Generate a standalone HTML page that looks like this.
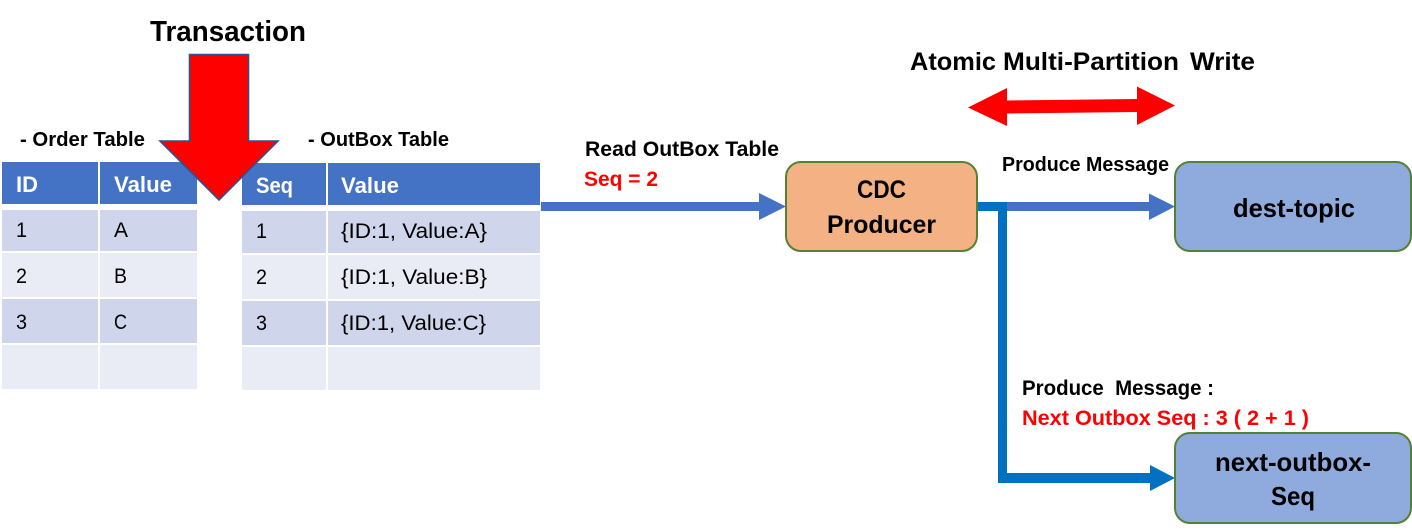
<!DOCTYPE html>
<html><head><meta charset="utf-8"><style>
html,body{margin:0;padding:0;background:#fff;width:1412px;height:531px;overflow:hidden}
svg{display:block}
text{font-family:"Liberation Sans",sans-serif;fill:#000;white-space:pre}
.b{font-weight:bold}
.r{fill:#f00}
.h{fill:#fff;font-weight:bold;font-size:22px}
.c{font-size:21px}
</style></head><body>
<svg width="1412" height="531" viewBox="0 0 1412 531" xmlns="http://www.w3.org/2000/svg">
<rect width="1412" height="531" fill="#fff"/>
<!-- order table -->
<g fill="#4472c4"><rect x="2" y="162" width="96" height="42"/><rect x="100" y="162" width="97" height="42"/></g>
<g fill="#cfd5ea"><rect x="2" y="210" width="96" height="41"/><rect x="100" y="210" width="97" height="41"/><rect x="2" y="299" width="96" height="44"/><rect x="100" y="299" width="97" height="44"/></g>
<g fill="#e9ebf5"><rect x="2" y="253" width="96" height="44"/><rect x="100" y="253" width="97" height="44"/><rect x="2" y="345" width="96" height="44"/><rect x="100" y="345" width="97" height="44"/></g>
<!-- outbox table -->
<g fill="#4472c4"><rect x="242" y="163" width="84" height="42"/><rect x="328" y="163" width="212" height="42"/></g>
<g fill="#cfd5ea"><rect x="242" y="211" width="84" height="42"/><rect x="328" y="211" width="212" height="42"/><rect x="242" y="301" width="84" height="44"/><rect x="328" y="301" width="212" height="44"/></g>
<g fill="#e9ebf5"><rect x="242" y="255" width="84" height="44"/><rect x="328" y="255" width="212" height="44"/><rect x="242" y="347" width="84" height="43"/><rect x="328" y="347" width="212" height="43"/></g>
<!-- table text -->
<text class="h" x="16" y="192" textLength="22" lengthAdjust="spacingAndGlyphs">ID</text>
<text class="h" x="114" y="192" textLength="58" lengthAdjust="spacingAndGlyphs">Value</text>
<text class="h" x="256" y="193" textLength="37" lengthAdjust="spacingAndGlyphs">Seq</text>
<text class="h" x="341" y="193" textLength="58" lengthAdjust="spacingAndGlyphs">Value</text>
<text class="c" x="16" y="237" textLength="11" lengthAdjust="spacingAndGlyphs">1</text><text class="c" x="114" y="237" textLength="14" lengthAdjust="spacingAndGlyphs">A</text>
<text class="c" x="16" y="283" textLength="11" lengthAdjust="spacingAndGlyphs">2</text><text class="c" x="114" y="283" textLength="13" lengthAdjust="spacingAndGlyphs">B</text>
<text class="c" x="16" y="329" textLength="11" lengthAdjust="spacingAndGlyphs">3</text><text class="c" x="114" y="329" textLength="13" lengthAdjust="spacingAndGlyphs">C</text>
<text class="c" x="256" y="238" textLength="11" lengthAdjust="spacingAndGlyphs">1</text><text class="c" x="341" y="238" textLength="146" lengthAdjust="spacingAndGlyphs">{ID:1, Value:A}</text>
<text class="c" x="256" y="284" textLength="11" lengthAdjust="spacingAndGlyphs">2</text><text class="c" x="341" y="284" textLength="146" lengthAdjust="spacingAndGlyphs">{ID:1, Value:B}</text>
<text class="c" x="256" y="330" textLength="11" lengthAdjust="spacingAndGlyphs">3</text><text class="c" x="341" y="330" textLength="145" lengthAdjust="spacingAndGlyphs">{ID:1, Value:C}</text>
<!-- big red arrow -->
<polygon points="189.5,54.5 248.5,54.5 248.5,141 278,141 219,200 160,141 189.5,141" fill="#f00" stroke="#2f528f" stroke-width="1.6"/>
<!-- headings -->
<text class="b" x="150" y="41" font-size="29" textLength="156" lengthAdjust="spacingAndGlyphs">Transaction</text>
<text class="b" x="20" y="146" font-size="20" textLength="125" lengthAdjust="spacingAndGlyphs">- Order Table</text>
<text class="b" x="308" y="146" font-size="20" textLength="141" lengthAdjust="spacingAndGlyphs">- OutBox Table</text>
<text class="b" x="585" y="156" font-size="21.5" textLength="194" lengthAdjust="spacingAndGlyphs">Read OutBox Table</text>
<text class="b r" x="584" y="186" font-size="21.5" textLength="74" lengthAdjust="spacingAndGlyphs">Seq = 2</text>
<text class="b" x="910" y="70" font-size="25" textLength="86" lengthAdjust="spacingAndGlyphs">Atomic</text>
<text class="b" x="1003" y="70" font-size="25" textLength="176" lengthAdjust="spacingAndGlyphs">Multi-Partition</text>
<text class="b" x="1190" y="70" font-size="25" textLength="65" lengthAdjust="spacingAndGlyphs">Write</text>
<text class="b" x="1002" y="171" font-size="20" textLength="167" lengthAdjust="spacingAndGlyphs">Produce Message</text>
<text class="b" x="1022" y="395" font-size="21.5" textLength="192" lengthAdjust="spacingAndGlyphs">Produce  Message :</text>
<text class="b r" x="1022" y="425" font-size="21.5" textLength="287" lengthAdjust="spacingAndGlyphs">Next Outbox Seq : 3 ( 2 + 1 )</text>
<!-- red double arrow -->
<polygon points="968,107.5 1007,88 1007,100.5 1137,99 1137,86.5 1175,105.5 1137,125 1137,112 1007,113.5 1007,126" fill="#f00"/>
<!-- connectors -->
<rect x="541" y="202" width="220" height="9" fill="#4472c4"/>
<polygon points="759,193 786,206.5 759,220" fill="#4472c4"/>
<rect x="977" y="202" width="30" height="9" fill="#0070c0"/>
<rect x="1007" y="202" width="143" height="9" fill="#4472c4"/>
<polygon points="1149,193.5 1175,206.5 1149,220" fill="#4472c4"/>
<polygon points="998,206 1007,206 1007,473 1150,473 1150,465 1175,478 1150,491 1150,483 998,483" fill="#0070c0"/>
<!-- boxes -->
<rect x="786" y="162" width="191" height="89" rx="15" fill="#f4b183" stroke="#548235" stroke-width="2"/>
<rect x="1175" y="162" width="236" height="89" rx="15" fill="#8faadc" stroke="#548235" stroke-width="2"/>
<rect x="1175" y="433" width="236" height="90" rx="15" fill="#8faadc" stroke="#548235" stroke-width="2"/>
<text class="b" x="857" y="198" font-size="25" textLength="49" lengthAdjust="spacingAndGlyphs">CDC</text>
<text class="b" x="827" y="233" font-size="25" textLength="109" lengthAdjust="spacingAndGlyphs">Producer</text>
<text class="b" x="1233" y="217" font-size="26" textLength="122" lengthAdjust="spacingAndGlyphs">dest-topic</text>
<text class="b" x="1215" y="471" font-size="26" textLength="156" lengthAdjust="spacingAndGlyphs">next-outbox-</text>
<text class="b" x="1271" y="505" font-size="26" textLength="44" lengthAdjust="spacingAndGlyphs">Seq</text>
</svg>
</body></html>
